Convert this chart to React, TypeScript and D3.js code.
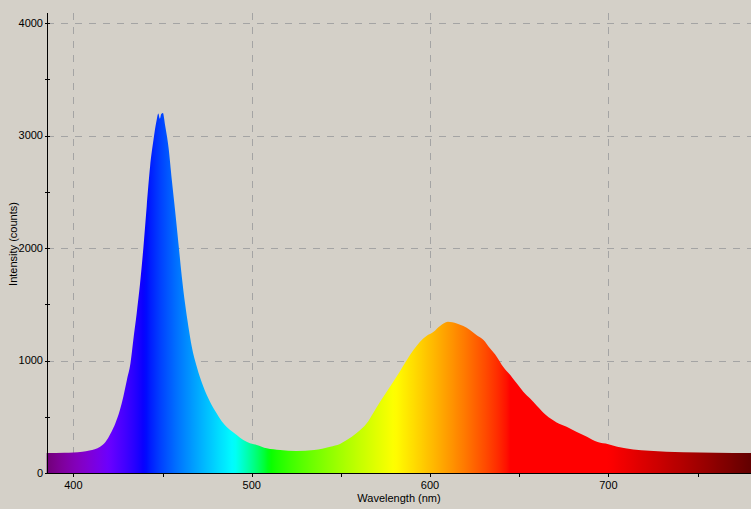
import * as d3 from 'd3'
import { useEffect } from 'react'

// spectrum readings (nm, counts)
const wavelengths = [
  385, 395, 400, 405, 409, 412, 415, 418, 421, 423.5, 426, 428, 430, 432, 433.6, 435.5, 437.4, 439.3,
  441.1, 443, 444.9, 446.7, 447.6, 448.5, 449.2, 450.2, 451.4, 453.3, 455.2, 457, 458.9, 460.8, 462.6,
  464.5, 466.4, 469.2, 472.9, 476.6, 480.4, 484.1, 487.9, 491.6, 495.3, 499, 502.8, 508.4, 516, 525,
  535, 544, 549.5, 553.3, 559, 564.5, 568, 572, 575.7, 579.4, 583, 587, 590.7, 594.4, 598, 602, 605.6,
  610, 615, 618.7, 622.4, 626, 630, 633.6, 637.4, 641, 645, 648.6, 652.3, 656, 660, 665, 671, 676.6,
  682, 688, 694, 700, 705, 714, 723, 742, 760, 780,
]
const counts = [
  178, 180, 182, 188, 200, 212, 234, 275, 355, 440, 555, 678, 827, 975, 1182, 1420, 1686, 2012,
  2367, 2723, 2960, 3138, 3195, 3150, 3190, 3200, 3093, 2900, 2604, 2338, 2042, 1745, 1508,
  1301, 1123, 945, 767, 634, 530, 442, 382, 338, 293, 264, 249, 219, 204, 196,
  204, 234, 258, 293, 358, 442, 530, 634, 723, 812, 900, 1004, 1093, 1167, 1218, 1256, 1307,
  1345, 1330, 1307, 1271, 1227, 1182, 1108, 1034, 945, 871, 797, 723, 664, 596, 516, 450, 412,
  367, 323, 275, 256, 234, 210, 198, 184, 180, 178,
]

const xTicks = [400, 500, 600, 700]
const xMinorTicks = [450, 550, 650, 750]
const yTicks = [0, 1000, 2000, 3000, 4000]
const yMinorTicks = [500, 1500, 2500, 3500]

const W = 751
const H = 509
const BG = '#d4d0c8'
const FONT = 'Liberation Sans, Arial, sans-serif'

// classic wavelength -> rgb mapping
function spectralColor(w: number): string {
  let r = 0, g = 0, b = 0
  if (w < 440) { r = -(w - 440) / 60; b = 1 }
  else if (w < 490) { g = (w - 440) / 50; b = 1 }
  else if (w < 510) { g = 1; b = -(w - 510) / 20 }
  else if (w < 580) { r = (w - 510) / 70; g = 1 }
  else if (w < 645) { r = 1; g = -(w - 645) / 65 }
  else { r = 1 }
  let f = 1
  if (w < 420) f = 0.3 + 0.7 * (w - 380) / 40
  else if (w > 700) f = 0.3 + 0.7 * (780 - w) / 80
  const c = (v: number) => (v === 0 ? 0 : Math.round(255 * Math.pow(v * f, 0.8)))
  return `rgb(${c(r)},${c(g)},${c(b)})`
}

export default function App() {
  useEffect(() => {
    document.body.style.margin = '0'
    document.body.style.background = BG
  }, [])

  const x = d3.scaleLinear().domain([385.2, 780]).range([47, 751])
  const y = d3.scaleLinear().domain([0, 4000]).range([473, 23])

  const pts = wavelengths.map((w, i) => [w, counts[i]] as [number, number])
  const area = d3.area<[number, number]>()
    .x(d => x(d[0]))
    .y0(y(0))
    .y1(d => y(d[1]))
    .curve(d3.curveMonotoneX)

  const stops = d3.range(385, 781, 2)

  return (
    <svg width={W} height={H} style={{ display: 'block', background: BG }} fontFamily={FONT}>
      <defs>
        <linearGradient id="spec" gradientUnits="userSpaceOnUse" x1={x(385)} x2={x(780)} y1={0} y2={0}>
          {stops.map(w => (
            <stop key={w} offset={(w - 385) / (780 - 385)} stopColor={spectralColor(w)} />
          ))}
        </linearGradient>
      </defs>
      <rect x={0} y={0} width={W} height={H} fill={BG} />

      {/* grid */}
      <g stroke="#a4a4a4" strokeDasharray="7,7" shapeRendering="crispEdges">
        {xTicks.map(t => (
          <line key={'gx' + t} x1={Math.round(x(t)) + 0.5} x2={Math.round(x(t)) + 0.5} y1={13} y2={473} />
        ))}
        {yTicks.filter(t => t > 0).map(t => (
          <line key={'gy' + t} x1={47} x2={W} y1={Math.round(y(t)) + 0.5} y2={Math.round(y(t)) + 0.5} />
        ))}
      </g>

      <path d={area(pts) ?? ''} fill="url(#spec)" />

      {/* axes */}
      <g stroke="#000" shapeRendering="crispEdges">
        <line x1={47.5} x2={47.5} y1={13} y2={474} />
        <line x1={47} x2={W} y1={473.5} y2={473.5} />
        {[...yTicks, ...yMinorTicks].map(t => (
          <line key={'ty' + t} x1={45} x2={50} y1={Math.round(y(t)) + 0.5} y2={Math.round(y(t)) + 0.5} />
        ))}
        {[...xTicks, ...xMinorTicks].map(t => (
          <line key={'tx' + t} x1={Math.round(x(t)) + 0.5} x2={Math.round(x(t)) + 0.5} y1={473} y2={477} />
        ))}
      </g>

      <g fontSize={11} fill="#000">
        {yTicks.map(t => (
          <text key={'ly' + t} x={43} y={y(t)} dy="0.35em" textAnchor="end">{t}</text>
        ))}
        {xTicks.map(t => (
          <text key={'lx' + t} x={x(t)} y={489} textAnchor="middle">{t}</text>
        ))}
        <text x={399} y={502} textAnchor="middle">Wavelength (nm)</text>
        <text transform="translate(17,244) rotate(-90)" textAnchor="middle">Intensity (counts)</text>
      </g>
    </svg>
  )
}
